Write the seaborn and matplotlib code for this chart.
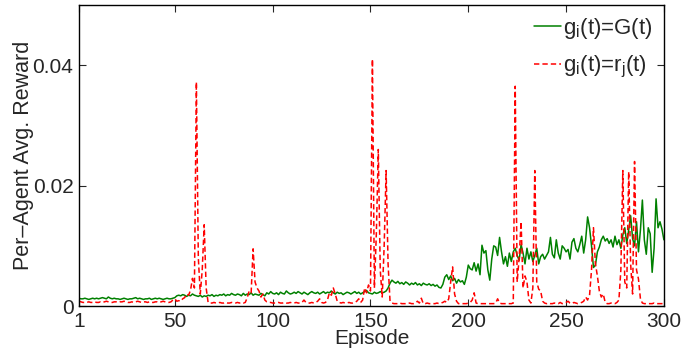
import numpy as np
import pandas as pd
import matplotlib
matplotlib.use('Agg')
import matplotlib.pyplot as plt
import seaborn as sns

# rewards, in units of 1e-4
green_e4 = [
    13, 12, 12, 13, 12, 11, 12, 13, 12, 13,
    12, 13, 14, 13, 12, 15, 13, 12, 13, 12,
    12, 11, 12, 13, 12, 11, 12, 12, 13, 14,
    12, 13, 12, 11, 12, 12, 13, 11, 12, 13,
    12, 13, 12, 11, 12, 13, 12, 12, 13, 14,
    17, 18, 17, 19, 18, 16, 18, 17, 20, 18,
    17, 16, 18, 15, 17, 16, 18, 17, 19, 16,
    18, 17, 19, 18, 20, 17, 19, 18, 21, 19,
    18, 20, 19, 17, 21, 18, 20, 19, 22, 18,
    20, 19, 18, 21, 19, 17, 22, 20, 24, 21,
    20, 22, 19, 23, 21, 20, 25, 22, 20, 21,
    23, 21, 24, 22, 20, 23, 21, 19, 22, 24,
    22, 21, 23, 20, 22, 24, 21, 23, 22, 25,
    22, 20, 23, 21, 22, 19, 21, 23, 22, 20,
    22, 24, 21, 23, 20, 22, 24, 26, 22, 21,
    20, 23, 21, 22, 24, 22, 23, 25, 30, 38,
    43, 40, 38, 41, 37, 39, 36, 40, 38, 35,
    38, 36, 39, 35, 37, 34, 38, 36, 35, 37,
    34, 36, 33, 35, 31, 30, 36, 48, 52, 44,
    50, 42, 46, 38, 44, 40, 42, 36, 48, 68,
    62, 60, 72, 58, 70, 52, 101, 88, 92, 60,
    43, 78, 100, 98, 84, 114, 90, 70, 82, 66,
    88, 74, 90, 96, 84, 76, 102, 88, 70, 96,
    78, 90, 74, 84, 96, 70, 82, 86, 78, 84,
    90, 114, 86, 80, 110, 88, 78, 100, 96, 90,
    94, 78, 106, 112, 96, 90, 102, 116, 88, 110,
    148, 130, 100, 64, 68, 90, 98, 110, 116, 108,
    112, 104, 110, 98, 116, 102, 110, 96, 118, 130,
    104, 126, 150, 112, 100, 140, 90, 126, 176, 110,
    86, 130, 120, 56, 96, 178, 130, 140, 128, 110,
]

red_e4 = [
    8, 7, 6, 6, 6, 7, 6, 6, 7, 6,
    6, 7, 6, 7, 8, 7, 6, 6, 7, 7,
    6, 7, 7, 8, 7, 6, 6, 7, 6, 7,
    8, 7, 6, 7, 7, 6, 7, 6, 6, 7,
    7, 6, 7, 8, 7, 6, 6, 7, 10, 12,
    8, 9, 8, 12, 14, 20, 18, 26, 46, 30,
    372, 80, 20, 60, 135, 30, 6, 5, 5, 6,
    5, 5, 6, 5, 5, 6, 5, 5, 6, 5,
    5, 6, 5, 6, 5, 6, 14, 25, 22, 95,
    40, 30, 25, 15, 20, 10, 7, 6, 6, 5,
    5, 5, 6, 5, 5, 6, 5, 5, 6, 5,
    5, 6, 5, 5, 6, 10, 6, 5, 5, 6,
    5, 6, 8, 12, 6, 5, 6, 10, 22, 18,
    30, 20, 8, 6, 5, 6, 5, 5, 6, 5,
    5, 6, 8, 12, 6, 10, 30, 22, 35, 25,
    410, 30, 120, 260, 60, 15, 100, 225, 70, 8,
    5, 4, 4, 4, 5, 4, 4, 4, 4, 5,
    4, 4, 5, 8, 5, 13, 4, 4, 5, 4,
    4, 4, 4, 5, 4, 5, 6, 8, 6, 12,
    40, 65, 20, 8, 4, 4, 4, 4, 4, 5,
    6, 10, 22, 5, 4, 4, 4, 4, 4, 4,
    4, 4, 4, 5, 12, 5, 4, 4, 4, 4,
    4, 4, 5, 365, 40, 80, 140, 30, 50, 40,
    10, 5, 30, 225, 40, 28, 25, 8, 5, 4,
    5, 4, 4, 5, 4, 4, 6, 4, 5, 6,
    8, 5, 4, 6, 5, 4, 5, 6, 8, 15,
    10, 18, 60, 130, 70, 50, 25, 15, 20, 6,
    4, 4, 5, 4, 4, 6, 10, 60, 225, 40,
    30, 223, 70, 20, 240, 60, 45, 12, 5, 4,
    4, 4, 4, 4, 5, 4, 4, 4, 4, 5,
]

episodes = np.arange(1, 301)
x_ticks = [1, 50, 100, 150, 200, 250, 300]
y_ticks = [0, 0.02, 0.04]
y_tick_labels = ['0', '0.02', '0.04']

df = pd.DataFrame({
    'Episode': episodes,
    'G': np.array(green_e4) / 1e4,
    'r': np.array(red_e4) / 1e4,
})

sns.set_style("ticks")
plt.rcParams['font.family'] = ['Liberation Sans', 'DejaVu Sans']
plt.rcParams['mathtext.fontset'] = 'custom'
plt.rcParams['mathtext.rm'] = 'Liberation Sans'
plt.rcParams['mathtext.it'] = 'Liberation Sans'

fig = plt.figure(figsize=(6.93, 3.53), dpi=100)
ax = fig.add_axes([0.114, 0.133, 0.844, 0.853])

sns.lineplot(data=df, x='Episode', y='G', ax=ax, color='#008000',
             linewidth=1.1, label=r'g$_\mathrm{i}$(t)=G(t)')
sns.lineplot(data=df, x='Episode', y='r', ax=ax, color='#ff0000',
             linewidth=1.1, linestyle=(0, (3.5, 2)),
             label=r'g$_\mathrm{i}$(t)=r$_\mathrm{j}$(t)')

ax.set_xlim(1, 300)
ax.set_ylim(0, 0.05)
ax.set_xticks(x_ticks)
ax.set_yticks(y_ticks)
ax.set_yticklabels(y_tick_labels)
ax.tick_params(direction='in', top=True, right=True, labelsize=15, length=5,
               width=0.8, pad=4)
for s in ax.spines.values():
    s.set_linewidth(1.0)
    s.set_color('black')

ax.set_xlabel('Episode', fontsize=15, labelpad=-1)
ax.set_ylabel('Per\u2013Agent Avg. Reward', fontsize=15.5, labelpad=-1)

ax.legend(loc='upper right', frameon=False, fontsize=16, handlelength=1.2,
          handletextpad=0.1, borderaxespad=0.1, labelspacing=0.6)

fig.savefig('out.png', dpi=100)
